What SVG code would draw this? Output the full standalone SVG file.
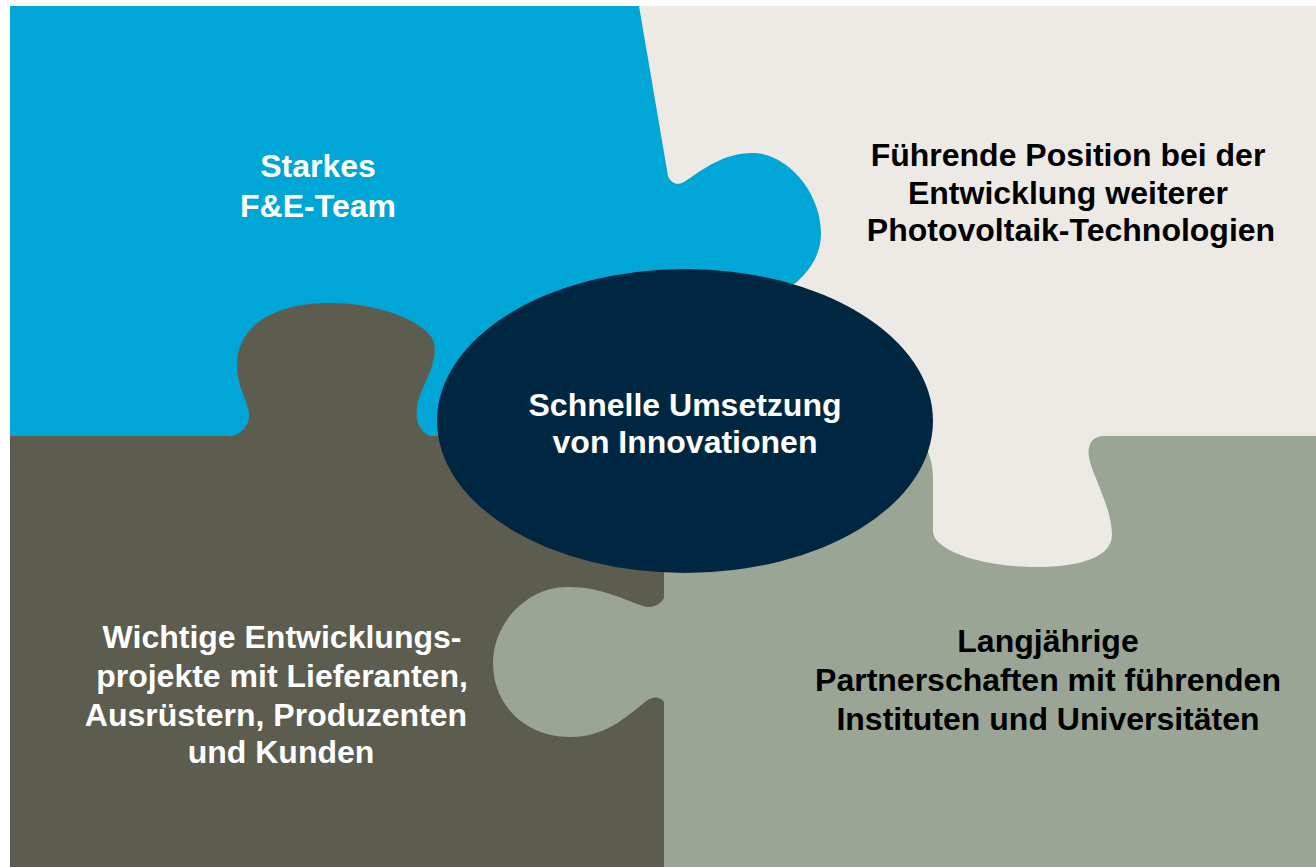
<svg xmlns="http://www.w3.org/2000/svg" width="1316" height="867" viewBox="0 0 1316 867">
<style>
.t{font-family:"Liberation Sans",Arial,sans-serif;font-weight:bold;font-size:32px;text-anchor:middle}
.w{fill:#ffffff}
.b{fill:#000000}
</style>
<rect width="1316" height="867" fill="#ffffff"/>
<g id="piece-top-right">
<rect x="600" y="6" width="716" height="430" fill="#EDEAE5"/>
</g>
<g id="piece-top-left">
<path d="M10,6 H639 L668,176 C671,183 677,186 684,182 C705,168 725,152 755,153 C790,155 822,195 821,235 C820,260 805,278 780,295 L600,380 L500,436 H10 Z" fill="#00A6D6"/>
</g>
<g id="piece-bottom-left">
<rect x="10" y="436" width="654" height="431" fill="#5C5D4F"/>
<path d="M233,436 C243,432 250,425 249,413 C247,398 236,385 237,362 C239,325 275,303 330,303 C380,303 425,322 433,340 C440,358 425,380 419,398 C414,414 416,430 430,436 L500,436 Z" fill="#5C5D4F"/>
</g>
<g id="piece-bottom-right">
<rect x="664" y="436" width="652" height="431" fill="#9AA595"/>
<path d="M664,598 C660,605 652,609 643,606 C620,598 600,587 568,587 C525,587 493,625 493,663 C493,705 525,737 570,737 C605,737 625,718 645,702 C652,696 660,696 664,702 Z" fill="#9AA595"/>
</g>
<g id="tab-top-right">
<path d="M915,436 C928,445 933,460 933,480 L933,532 C935,552 985,567 1037,567 C1080,567 1112,557 1112,535 C1112,510 1095,480 1090,462 C1087,450 1088,438 1102,436 Z" fill="#EDEAE5"/>
</g>
<g id="center">
<ellipse cx="685" cy="421" rx="248" ry="152" fill="#002741"/>
<text class="t w" x="685" y="416">Schnelle Umsetzung</text>
<text class="t w" x="685" y="453">von Innovationen</text>
</g>
<g id="labels">
<text class="t w" x="318" y="177">Starkes</text>
<text class="t w" x="318" y="217">F&amp;E-Team</text>
<text class="t b" x="1068" y="166">Führende Position bei der</text>
<text class="t b" x="1068" y="204">Entwicklung weiterer</text>
<text class="t b" x="1071" y="241">Photovoltaik-Technologien</text>
<text class="t w" x="282" y="648">Wichtige Entwicklungs-</text>
<text class="t w" x="282" y="687">projekte mit Lieferanten,</text>
<text class="t w" x="276" y="726">Ausrüstern, Produzenten</text>
<text class="t w" x="281" y="763">und Kunden</text>
<text class="t b" x="1048" y="652">Langjährige</text>
<text class="t b" x="1048" y="691">Partnerschaften mit führenden</text>
<text class="t b" x="1048" y="730">Instituten und Universitäten</text>
</g>
<g id="connectors"/>
</svg>
